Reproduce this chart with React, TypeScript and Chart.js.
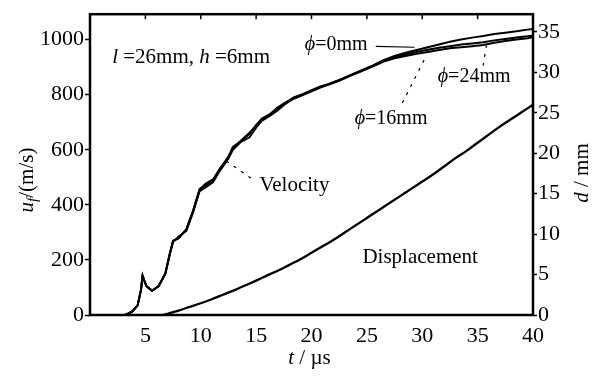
import React, { useEffect, useRef } from "react";
import { Chart, registerables } from "chart.js";

Chart.register(...registerables);

const SERIF = "'Liberation Serif', 'Times New Roman', serif";

// Velocity time base (µs)
const velTime = [3.2, 3.8, 4.3, 4.6, 4.75, 4.9, 5.1, 5.6, 6.2, 6.8, 7.2, 7.5, 8.0, 8.7, 9.3, 9.9, 10.4, 11.1, 11.7, 12.5, 12.9, 13.6, 14.4, 15.0, 15.5, 16.2, 16.9, 17.6, 18.4, 19.2, 19.9, 20.8, 21.5, 22.5, 23.5, 24.5, 25.5, 26.5, 27.5, 28.5, 29.5, 30.5, 31.5, 32.5, 33.5, 34.5, 35.5, 36.5, 37.5, 38.5, 39.5, 40];
// Velocity u_f (m/s) for three hole diameters
const velPhi0 = [0, 12, 35, 90, 142, 125, 105, 88, 105, 150, 220, 268, 280, 310, 375, 455, 475, 492, 528, 575, 610, 630, 658, 690, 710, 725, 752, 770, 788, 800, 812, 828, 837, 852, 870, 888, 905, 925, 940, 952, 962, 972, 982, 992, 1000, 1007, 1013, 1020, 1025, 1030, 1036, 1038];
const velPhi16 = [0, 12, 35, 90, 142, 125, 105, 88, 105, 150, 220, 265, 285, 305, 372, 450, 462, 482, 522, 568, 600, 628, 645, 680, 705, 722, 742, 765, 785, 798, 810, 826, 836, 850, 868, 885, 902, 920, 932, 940, 948, 955, 962, 968, 972, 976, 980, 988, 995, 1000, 1005, 1008];
const velPhi24 = [0, 12, 35, 90, 142, 125, 105, 88, 105, 150, 222, 270, 278, 312, 378, 458, 470, 488, 530, 572, 606, 632, 662, 686, 712, 728, 750, 768, 790, 802, 814, 830, 838, 853, 871, 887, 903, 922, 936, 946, 955, 963, 970, 976, 982, 986, 990, 997, 1002, 1007, 1012, 1014];

// Displacement d (mm)
const dispTime = [6.6, 7, 8, 9, 10, 11, 12, 13, 14, 15, 16, 17, 18, 19, 20, 21, 22, 23, 24, 25, 26, 27, 28, 29, 30, 31, 32, 33, 34, 35, 36, 37, 38, 39, 40];
const dispVal = [0, 0.15, 0.55, 1.0, 1.45, 1.95, 2.5, 3.05, 3.65, 4.25, 4.9, 5.5, 6.2, 6.9, 7.7, 8.5, 9.3, 10.2, 11.1, 12.0, 12.9, 13.8, 14.7, 15.6, 16.5, 17.4, 18.4, 19.4, 20.3, 21.3, 22.3, 23.3, 24.2, 25.1, 26.0];

// Ticks
const xTicks = [0, 5, 10, 15, 20, 25, 30, 35, 40];
const yTicks = [0, 200, 400, 600, 800, 1000];
const dTicks = [0, 5, 10, 15, 20, 25, 30, 35];

type Run = [string, "n" | "i" | "sub"];

function drawRuns(ctx: CanvasRenderingContext2D, runs: Run[], x: number, y: number, size: number, align: "left" | "center") {
  const fontFor = (s: Run[1]) =>
    s === "n" ? `${size}px ${SERIF}` : s === "i" ? `italic ${size}px ${SERIF}` : `italic ${Math.round(size * 0.7)}px ${SERIF}`;
  let total = 0;
  for (const [t, s] of runs) {
    ctx.font = fontFor(s);
    total += ctx.measureText(t).width;
  }
  let cx = align === "center" ? x - total / 2 : x;
  ctx.textBaseline = "middle";
  ctx.textAlign = "left";
  for (const [t, s] of runs) {
    ctx.font = fontFor(s);
    ctx.fillText(t, cx, s === "sub" ? y + size * 0.3 : y);
    cx += ctx.measureText(t).width;
  }
}

const framePlugin = {
  id: "frameAndNotes",
  afterDraw(chart: any) {
    const { ctx, chartArea: a, scales } = chart;
    const xs = scales.x, ys = scales.y;
    const px = (t: number) => xs.getPixelForValue(t);
    const py = (v: number) => ys.getPixelForValue(v);
    ctx.save();
    ctx.strokeStyle = "#000";
    ctx.fillStyle = "#000";
    // frame
    ctx.lineWidth = 2.5;
    ctx.strokeRect(a.left, a.top, a.right - a.left, a.bottom - a.top);
    // top inward ticks
    ctx.lineWidth = 1.5;
    for (const t of xTicks.slice(1, -1)) {
      ctx.beginPath();
      ctx.moveTo(px(t), a.top);
      ctx.lineTo(px(t), a.top + 5);
      ctx.stroke();
    }
    // annotations
    drawRuns(ctx, [["l", "i"], [" =26mm", "n"], [", ", "n"], ["h", "i"], [" =6mm", "n"]], px(2.0), py(935), 21, "left");
    drawRuns(ctx, [["ϕ", "i"], ["=0mm", "n"]], px(19.4), py(980), 20, "left");
    drawRuns(ctx, [["ϕ", "i"], ["=24mm", "n"]], px(31.4), py(866), 20, "left");
    drawRuns(ctx, [["ϕ", "i"], ["=16mm", "n"]], px(23.9), py(712), 20, "left");
    drawRuns(ctx, [["Velocity", "n"]], px(15.3), py(470), 21, "left");
    drawRuns(ctx, [["Displacement", "n"]], px(24.6), py(210), 21, "left");
    // leaders
    ctx.lineWidth = 1.2;
    ctx.beginPath();
    ctx.moveTo(px(25.8), py(975));
    ctx.lineTo(px(29.3), py(972));
    ctx.stroke();
    ctx.setLineDash([3, 6]);
    ctx.beginPath();
    ctx.moveTo(px(35.5), py(905));
    ctx.lineTo(px(35.8), py(980));
    ctx.stroke();
    ctx.beginPath();
    ctx.moveTo(px(28.2), py(770));
    ctx.lineTo(px(30.4), py(944));
    ctx.stroke();
    ctx.beginPath();
    ctx.moveTo(px(12.3), py(559));
    ctx.lineTo(px(14.6), py(495));
    ctx.stroke();
    ctx.setLineDash([]);
    // axis titles
    drawRuns(ctx, [["t", "i"], [" / ", "n"], ["µs", "n"]], (a.left + a.right) / 2 - 2, 358, 21, "center");
    ctx.save();
    ctx.translate(27, 180);
    ctx.rotate(-Math.PI / 2);
    drawRuns(ctx, [["u", "i"], ["f", "sub"], ["/(m/s)", "n"]], 0, 0, 21, "center");
    ctx.restore();
    ctx.save();
    ctx.translate(582, 173);
    ctx.rotate(-Math.PI / 2);
    drawRuns(ctx, [["d", "i"], [" / mm", "n"]], 0, 0, 21, "center");
    ctx.restore();
    ctx.restore();
  },
};

export default function App() {
  const ref = useRef<HTMLCanvasElement>(null);
  useEffect(() => {
    if (!ref.current) return;
    const pts = (xs: number[], ys: number[]) => xs.map((x, i) => ({ x, y: ys[i] }));
    const velStyle = { borderColor: "#000", borderWidth: 2, pointRadius: 0, tension: 0, yAxisID: "y" };
    const chart = new Chart(ref.current, {
      type: "line",
      data: {
        datasets: [
          { label: "ϕ=0mm", data: pts(velTime, velPhi0), ...velStyle },
          { label: "ϕ=16mm", data: pts(velTime, velPhi16), ...velStyle },
          { label: "ϕ=24mm", data: pts(velTime, velPhi24), ...velStyle },
          { label: "Displacement", data: pts(dispTime, dispVal), borderColor: "#000", borderWidth: 2.3, pointRadius: 0, tension: 0.4, yAxisID: "y2" },
        ],
      },
      options: {
        responsive: false,
        animation: false,
        layout: { padding: { top: 8, left: 0, right: 0, bottom: 0 } },
        plugins: { legend: { display: false }, tooltip: { enabled: false } },
        scales: {
          x: {
            type: "linear",
            min: 0,
            max: 40,
            afterBuildTicks: (s: any) => { s.ticks = xTicks.map((v) => ({ value: v })); },
            afterFit: (s: any) => { s.height = 65; },
            ticks: {
              color: "#000",
              font: { family: SERIF, size: 22 },
              padding: 0,
              maxRotation: 0,
              autoSkip: false,
              callback: (v: any) => (v === 0 ? "" : String(v)),
            },
            grid: { display: false },
            border: { display: false },
          },
          y: {
            type: "linear",
            position: "left",
            min: 0,
            max: 1092,
            afterBuildTicks: (s: any) => { s.ticks = yTicks.map((v) => ({ value: v })); },
            afterFit: (s: any) => { s.width = 90; },
            ticks: { color: "#000", font: { family: SERIF, size: 22 }, padding: 1, autoSkip: false, callback: (v: any) => String(v) },
            grid: { display: true, drawOnChartArea: false, drawTicks: true, tickLength: 5, tickColor: "#000", tickWidth: 1.5 },
            border: { display: false },
          },
          y2: {
            type: "linear",
            position: "right",
            min: 0,
            max: 37.2,
            afterBuildTicks: (s: any) => { s.ticks = dTicks.map((v) => ({ value: v })); },
            afterFit: (s: any) => { s.width = 73; },
            ticks: { color: "#000", font: { family: SERIF, size: 22 }, padding: 1, autoSkip: false, callback: (v: any) => String(v) },
            grid: { display: true, drawOnChartArea: false, drawTicks: true, tickLength: 4, tickColor: "#000", tickWidth: 1.5 },
            border: { display: false },
          },
        },
      },
      plugins: [framePlugin],
    } as any);
    return () => chart.destroy();
  }, []);
  return (
    <div style={{ position: "fixed", left: 0, top: 0, width: 606, height: 380, background: "#fff" }}>
      <canvas ref={ref} width={606} height={380} style={{ display: "block" }} />
    </div>
  );
}
